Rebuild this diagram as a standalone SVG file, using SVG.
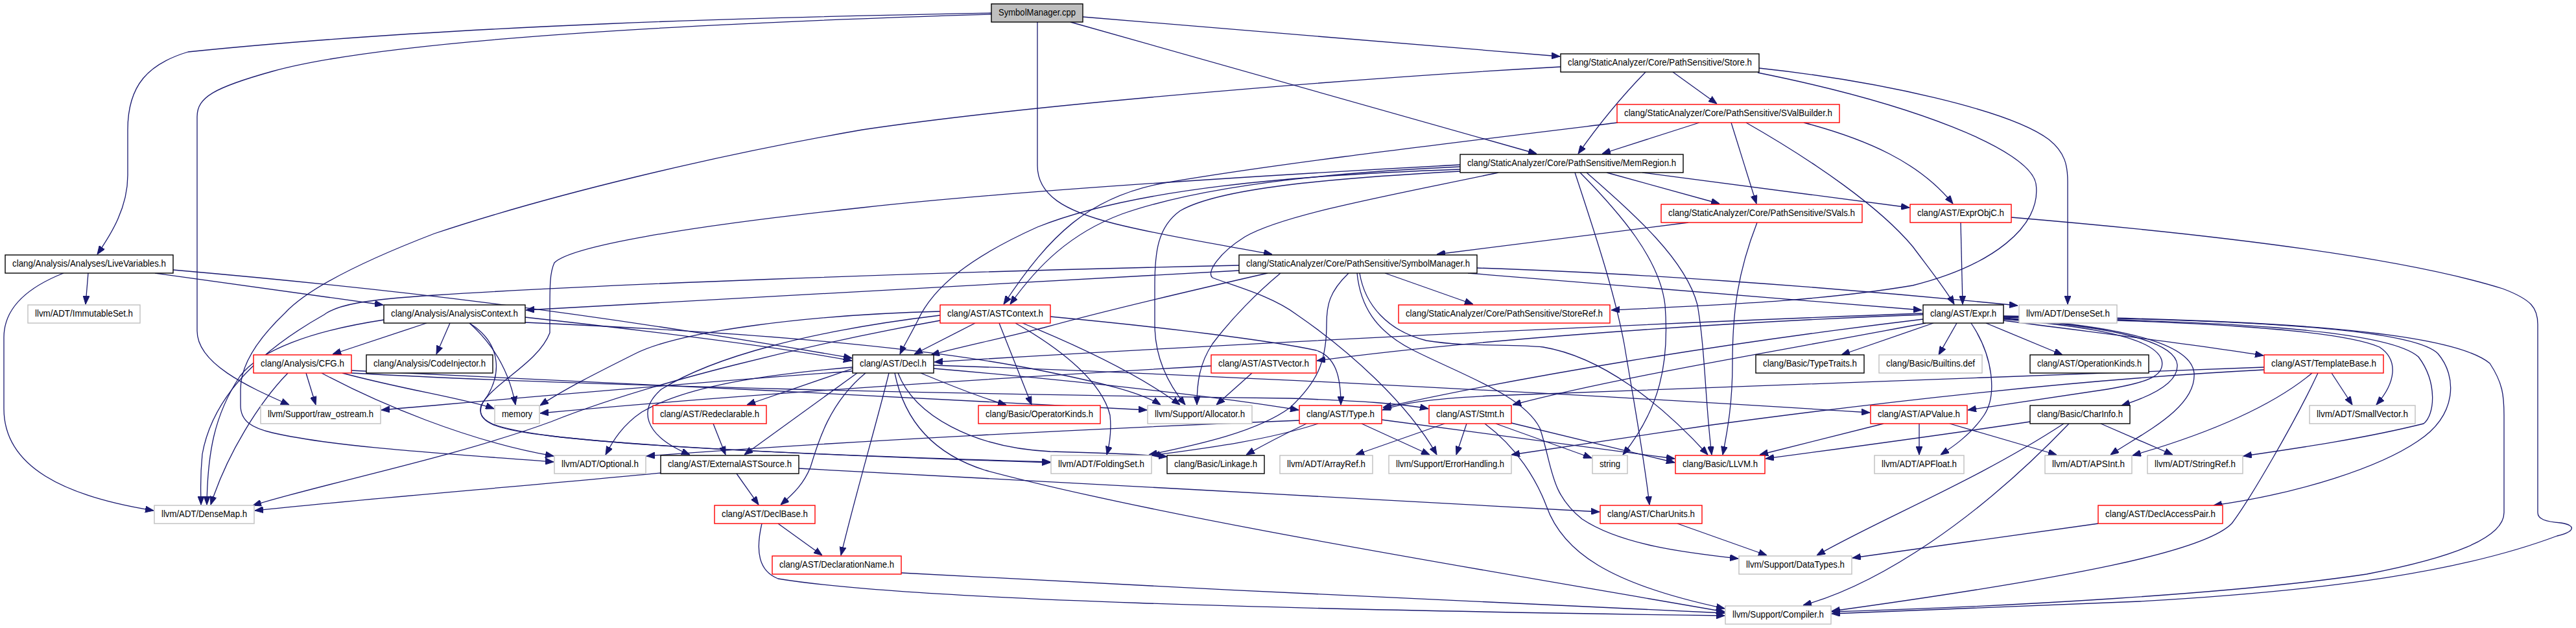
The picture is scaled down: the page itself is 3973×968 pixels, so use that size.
<svg xmlns="http://www.w3.org/2000/svg" width="3973" height="968" viewBox="0 0 3973 968">
<style>
.e{fill:none;stroke:#191970;stroke-width:1.3;marker-end:url(#ah)}
.n rect{fill:#fff;stroke-width:1.4}
.b rect{stroke:#000}
.r rect{stroke:#ff0000}
.g rect{stroke:#bfbfbf}
.k rect{fill:#bfbfbf;stroke:#000}
text{font-family:"Liberation Sans",Arial,Helvetica,sans-serif;font-size:14.5px;fill:#000;text-anchor:middle}
</style>
<defs>
<marker id="ah" viewBox="0 0 13 10" refX="13" refY="5" markerWidth="13" markerHeight="10" markerUnits="userSpaceOnUse" orient="auto"><path d="M0,0 L13,5 L0,10 z" fill="#191970" stroke="#191970" stroke-width="1"/></marker>
</defs>
<rect width="3973" height="968" fill="#fff"/>
<g id="edges">
<path class="e" d="M1529,20 C1200,26 700,38 290,80 C230,98 197,130 197,200 L197,270 C197,320 172,360 150,392"/>
<path class="e" d="M1529,22 C1100,35 600,60 420,110 C330,135 304,150 304,180 L304,510 C304,560 380,595 446,624"/>
<path class="e" d="M1600,34 L1600,255 C1600,300 1640,325 1720,345 C1800,365 1900,380 1962,392"/>
<path class="e" d="M1670,26 L2406,87"/>
<path class="e" d="M1651,34 L2370,237"/>
<path class="e" d="M2538,111 C2495,155 2460,200 2434,237"/>
<path class="e" d="M2580,111 L2648,160"/>
<path class="e" d="M2713,105 C2900,125 3100,170 3160,215 C3185,235 3189,255 3189,280 L3189,469"/>
<path class="e" d="M2711,112 C2950,160 3130,230 3140,283 C3150,350 3070,410 2950,440 C2800,465 2650,470 2485,478"/>
<path class="e" d="M2407,103 C2100,120 1600,160 1330,200 C1100,240 850,300 670,360 C540,410 470,450 440,482 C400,520 371,560 371,600 L371,625 C371,650 390,660 420,667 C520,690 700,700 854,712"/>
<path class="e" d="M2621,189 L2471,237"/>
<path class="e" d="M2670,189 L2709,314"/>
<path class="e" d="M2693,189 C2800,250 2900,320 2950,380 C2980,420 3000,445 3014,469"/>
<path class="e" d="M2782,189 C2880,215 2960,250 3012,314"/>
<path class="e" d="M2495,189 C2200,225 1950,255 1790,283 C1680,305 1620,360 1548,469"/>
<path class="e" d="M2252,257 C2000,268 1830,295 1730,330 C1650,360 1600,410 1558,469"/>
<path class="e" d="M2429,266 C2460,360 2490,450 2505,530 C2520,620 2535,700 2544,778"/>
<path class="e" d="M2252,261 C2000,270 1750,290 1600,350 C1500,395 1440,440 1415,495 C1402,520 1393,535 1388,546"/>
<path class="e" d="M2533,266 L2945,320"/>
<path class="e" d="M2447,266 C2520,330 2600,400 2618,470 C2630,540 2630,620 2640,701"/>
<path class="e" d="M2478,266 L2652,314"/>
<path class="e" d="M2252,254 C2100,262 1600,290 1330,320 C1050,350 880,380 855,405 C848,420 848,440 848,480 L848,513 C830,560 760,590 742,625 C735,650 760,662 850,672 C1000,690 1300,703 1620,713"/>
<path class="e" d="M2252,264 C2050,275 1880,290 1820,325 C1785,350 1781,390 1781,440 L1781,500 C1781,550 1800,590 1828,624"/>
<path class="e" d="M2311,266 C2150,300 1980,330 1920,365 C1880,390 1860,420 1870,428 C1900,440 1960,455 2000,485 C2080,540 2170,620 2216,701"/>
<path class="e" d="M2437,266 C2500,330 2560,400 2568,470 C2575,560 2560,630 2503,701"/>
<path class="e" d="M2604,343 L2216,392"/>
<path class="e" d="M2710,343 C2680,420 2672,480 2672,560 C2672,620 2665,660 2657,701"/>
<path class="e" d="M3024,343 L3027,469"/>
<path class="e" d="M3102,335 C3400,360 3700,395 3860,445 C3905,462 3914,475 3914,500 L3914,790 C3914,800 3925,804 3950,806 C3975,810 3970,820 3944,826 C3800,880 3600,910 3300,927 C3100,935 2950,940 2825,946"/>
<path class="e" d="M1955,421 C1850,445 1700,480 1610,505 C1530,525 1480,535 1436,547"/>
<path class="e" d="M2264,421 L2964,478"/>
<path class="e" d="M1911,417 C1500,440 1100,460 811,478"/>
<path class="e" d="M2097,421 C2105,470 2140,510 2200,525 C2260,535 2330,530 2380,535 C2470,550 2560,620 2634,701"/>
<path class="e" d="M2136,421 L2272,469"/>
<path class="e" d="M1911,409 C1400,420 900,440 670,455 C560,462 520,470 500,485 C420,530 330,600 312,700 C308,740 310,760 310,778"/>
<path class="e" d="M2278,413 C2500,420 2800,440 3112,471"/>
<path class="e" d="M2080,421 C2050,450 2046,470 2046,500 C2046,560 2030,590 1990,628 C1940,665 1850,685 1772,701"/>
<path class="e" d="M1975,421 C1940,450 1900,490 1870,530 C1850,560 1846,590 1846,624"/>
<path class="e" d="M2093,421 C2098,470 2120,510 2180,540 C2260,580 2350,610 2375,660 C2395,720 2390,760 2440,800 C2500,840 2600,852 2681,861"/>
<path class="e" d="M98,421 C50,440 6,470 6,520 L6,630 C6,720 100,765 237,787"/>
<path class="e" d="M136,421 L132,469"/>
<path class="e" d="M239,421 L591,470"/>
<path class="e" d="M267,416 C600,445 900,480 1314,552"/>
<path class="e" d="M810,489 C1000,510 1200,535 1314,556"/>
<path class="e" d="M658,498 L513,546"/>
<path class="e" d="M694,498 L673,546"/>
<path class="e" d="M592,493 C480,510 400,540 370,580 C330,640 320,700 319,778"/>
<path class="e" d="M724,498 C775,530 775,580 745,620 C730,650 760,660 850,672 C1000,690 1300,703 1620,712"/>
<path class="e" d="M810,497 C1100,510 1400,530 1600,570 C1700,590 1760,605 1790,624"/>
<path class="e" d="M724,498 C760,530 785,570 795,624"/>
<path class="e" d="M1504,498 L1410,546"/>
<path class="e" d="M1450,486 C1250,510 1100,550 1020,600 C985,630 990,670 1064,701"/>
<path class="e" d="M1620,488 C1800,505 1960,525 2030,540 C2060,550 2068,580 2068,624"/>
<path class="e" d="M1541,498 L1591,624"/>
<path class="e" d="M1450,494 C1250,530 1000,590 850,650 C700,705 500,745 390,779"/>
<path class="e" d="M1566,498 C1640,540 1700,590 1712,640 C1715,670 1710,690 1707,701"/>
<path class="e" d="M1577,498 C1680,540 1760,580 1820,624"/>
<path class="e" d="M1450,480 C1250,485 1050,510 980,545 C920,575 870,600 833,625"/>
<path class="e" d="M444,575 C400,620 350,700 325,778"/>
<path class="e" d="M472,575 L487,624"/>
<path class="e" d="M496,575 C580,620 720,680 854,703"/>
<path class="e" d="M528,575 C620,600 720,615 762,630"/>
<path class="e" d="M542,575 C900,595 1500,608 1990,614 C2100,618 2160,622 2203,630"/>
<path class="e" d="M541,571 C900,590 1400,610 1769,632"/>
<path class="e" d="M1322,575 L1148,701"/>
<path class="e" d="M1315,568 L1152,624"/>
<path class="e" d="M1335,575 C1280,620 1262,680 1250,720 C1240,745 1225,760 1204,778"/>
<path class="e" d="M1371,575 C1350,660 1320,760 1297,856"/>
<path class="e" d="M1315,566 C1150,580 1050,600 990,635 C960,655 945,680 934,701"/>
<path class="e" d="M1315,572 C1000,595 750,618 588,632"/>
<path class="e" d="M1440,568 C1700,590 1900,615 2003,632"/>
<path class="e" d="M1440,563 C1800,575 2400,605 2884,636"/>
<path class="e" d="M1420,575 C1480,600 1520,615 1552,624"/>
<path class="e" d="M1385,575 C1410,640 1500,690 1620,696 C1700,698 1760,700 1800,704"/>
<path class="e" d="M1380,575 C1395,650 1440,700 1520,725 C1800,800 2300,880 2660,943"/>
<path class="e" d="M2966,485 C2700,495 2300,520 2031,556"/>
<path class="e" d="M2966,483 C2500,500 1900,530 1441,558"/>
<path class="e" d="M2966,492 C2650,530 2350,580 2133,628"/>
<path class="e" d="M2970,498 C2750,540 2500,580 2333,624"/>
<path class="e" d="M2982,498 L2840,547"/>
<path class="e" d="M3018,498 L2990,547"/>
<path class="e" d="M3040,498 C3075,550 3080,610 3060,640 C3040,670 3010,690 2993,701"/>
<path class="e" d="M3063,498 L3181,547"/>
<path class="e" d="M3090,494 C3250,515 3380,530 3491,548"/>
<path class="e" d="M3090,492 C3250,505 3325,525 3334,555 C3340,580 3310,590 3250,600 C3150,615 3080,625 3035,632"/>
<path class="e" d="M3090,491 C3280,505 3355,530 3358,562 C3360,590 3320,610 3272,625"/>
<path class="e" d="M3090,490 C3300,505 3380,535 3384,575 C3388,630 3300,670 3255,701"/>
<path class="e" d="M3090,489 C3350,495 3600,505 3670,535 C3700,555 3695,590 3665,624"/>
<path class="e" d="M3090,488 C3400,495 3680,505 3730,550 C3760,590 3755,640 3738,653 C3650,675 3550,690 3460,703"/>
<path class="e" d="M3090,488 C3450,492 3720,505 3760,545 C3790,580 3790,640 3729,680 C3670,720 3550,760 3414,779"/>
<path class="e" d="M3090,487 C3500,492 3780,510 3840,560 C3860,590 3862,610 3862,640 L3862,790 C3862,830 3780,860 3650,885 C3450,915 3100,935 2825,943"/>
<path class="e" d="M3492,566 C3100,580 2600,600 2300,610 C2200,615 2160,622 2132,632"/>
<path class="e" d="M3492,570 C3200,585 2900,620 2640,655 C2500,675 2400,690 2331,701"/>
<path class="e" d="M3566,575 C3500,630 3400,670 3289,702"/>
<path class="e" d="M3575,575 C3540,650 3470,770 3442,807 C3400,850 3200,890 2825,942"/>
<path class="e" d="M3596,575 L3628,624"/>
<path class="e" d="M2100,653 L2205,701"/>
<path class="e" d="M2131,647 C2300,670 2450,690 2583,707"/>
<path class="e" d="M2004,648 C1700,660 1300,680 997,703"/>
<path class="e" d="M2033,653 C1950,680 1850,692 1776,702"/>
<path class="e" d="M2015,653 C1975,672 1945,688 1922,701"/>
<path class="e" d="M2228,653 L2091,701"/>
<path class="e" d="M2262,653 L2246,701"/>
<path class="e" d="M2307,653 L2455,706"/>
<path class="e" d="M2331,652 C2450,680 2530,700 2583,713"/>
<path class="e" d="M2290,653 C2340,690 2370,740 2385,780 C2410,850 2480,900 2660,938"/>
<path class="e" d="M2905,653 L2714,701"/>
<path class="e" d="M2960,653 L2960,701"/>
<path class="e" d="M3007,653 L3172,701"/>
<path class="e" d="M3131,650 C3000,670 2850,690 2723,707"/>
<path class="e" d="M3183,653 C3050,740 2900,800 2802,856"/>
<path class="e" d="M3191,653 C3050,800 2900,900 2781,933"/>
<path class="e" d="M3240,653 L3351,701"/>
<path class="e" d="M1200,807 L1268,856"/>
<path class="e" d="M1175,807 C1165,850 1170,880 1200,892 C1400,925 2000,940 2660,949"/>
<path class="e" d="M1390,883 C1800,905 2300,930 2660,945"/>
<path class="e" d="M1136,730 L1170,778"/>
<path class="e" d="M1019,729 C800,750 550,770 393,787"/>
<path class="e" d="M1232,722 C1600,740 2100,770 2467,789"/>
<path class="e" d="M1100,653 L1119,701"/>
<path class="e" d="M1931,575 L1876,624"/>
<path class="e" d="M1868,564 C1500,585 1100,612 833,637"/>
<path class="e" d="M2587,807 L2725,856"/>
<path class="e" d="M3236,807 L2857,860"/>
</g>
<g id="n0" class="n k"><rect x="1529" y="6" width="141" height="28"/><text x="1599.5" y="24" textLength="119" lengthAdjust="spacingAndGlyphs">SymbolManager.cpp</text></g>
<g id="n1" class="n b"><rect x="2407" y="83" width="306" height="28"/><text x="2560" y="101" textLength="284" lengthAdjust="spacingAndGlyphs">clang/StaticAnalyzer/Core/PathSensitive/Store.h</text></g>
<g id="n2" class="n r"><rect x="2494" y="161" width="343" height="28"/><text x="2665.5" y="179" textLength="321" lengthAdjust="spacingAndGlyphs">clang/StaticAnalyzer/Core/PathSensitive/SValBuilder.h</text></g>
<g id="n3" class="n b"><rect x="2252" y="238" width="344" height="28"/><text x="2424" y="256" textLength="322" lengthAdjust="spacingAndGlyphs">clang/StaticAnalyzer/Core/PathSensitive/MemRegion.h</text></g>
<g id="n4" class="n r"><rect x="2562" y="315" width="310" height="28"/><text x="2717" y="333" textLength="288" lengthAdjust="spacingAndGlyphs">clang/StaticAnalyzer/Core/PathSensitive/SVals.h</text></g>
<g id="n5" class="n r"><rect x="2946" y="315" width="156" height="28"/><text x="3024" y="333" textLength="134" lengthAdjust="spacingAndGlyphs">clang/AST/ExprObjC.h</text></g>
<g id="n6" class="n b"><rect x="1911" y="393" width="367" height="28"/><text x="2094.5" y="411" textLength="345" lengthAdjust="spacingAndGlyphs">clang/StaticAnalyzer/Core/PathSensitive/SymbolManager.h</text></g>
<g id="n7" class="n b"><rect x="8" y="393" width="259" height="28"/><text x="137.5" y="411" textLength="237" lengthAdjust="spacingAndGlyphs">clang/Analysis/Analyses/LiveVariables.h</text></g>
<g id="n8" class="n b"><rect x="592" y="470" width="218" height="28"/><text x="701" y="488" textLength="196" lengthAdjust="spacingAndGlyphs">clang/Analysis/AnalysisContext.h</text></g>
<g id="n9" class="n g"><rect x="43" y="470" width="173" height="28"/><text x="129.5" y="488" textLength="151" lengthAdjust="spacingAndGlyphs">llvm/ADT/ImmutableSet.h</text></g>
<g id="n10" class="n r"><rect x="1450" y="470" width="170" height="28"/><text x="1535" y="488" textLength="148" lengthAdjust="spacingAndGlyphs">clang/AST/ASTContext.h</text></g>
<g id="n11" class="n r"><rect x="2157" y="470" width="326" height="28"/><text x="2320" y="488" textLength="304" lengthAdjust="spacingAndGlyphs">clang/StaticAnalyzer/Core/PathSensitive/StoreRef.h</text></g>
<g id="n12" class="n b"><rect x="2966" y="470" width="124" height="28"/><text x="3028" y="488" textLength="102" lengthAdjust="spacingAndGlyphs">clang/AST/Expr.h</text></g>
<g id="n13" class="n g"><rect x="3114" y="470" width="151" height="28"/><text x="3189.5" y="488" textLength="129" lengthAdjust="spacingAndGlyphs">llvm/ADT/DenseSet.h</text></g>
<g id="n14" class="n r"><rect x="391" y="547" width="151" height="28"/><text x="466.5" y="565" textLength="129" lengthAdjust="spacingAndGlyphs">clang/Analysis/CFG.h</text></g>
<g id="n15" class="n b"><rect x="565" y="547" width="195" height="28"/><text x="662.5" y="565" textLength="173" lengthAdjust="spacingAndGlyphs">clang/Analysis/CodeInjector.h</text></g>
<g id="n16" class="n b"><rect x="1315" y="547" width="125" height="28"/><text x="1377.5" y="565" textLength="103" lengthAdjust="spacingAndGlyphs">clang/AST/Decl.h</text></g>
<g id="n17" class="n r"><rect x="1868" y="547" width="162" height="28"/><text x="1949" y="565" textLength="140" lengthAdjust="spacingAndGlyphs">clang/AST/ASTVector.h</text></g>
<g id="n18" class="n b"><rect x="2708" y="547" width="167" height="28"/><text x="2791.5" y="565" textLength="145" lengthAdjust="spacingAndGlyphs">clang/Basic/TypeTraits.h</text></g>
<g id="n19" class="n g"><rect x="2898" y="547" width="159" height="28"/><text x="2977.5" y="565" textLength="137" lengthAdjust="spacingAndGlyphs">clang/Basic/Builtins.def</text></g>
<g id="n20" class="n b"><rect x="3131" y="547" width="183" height="28"/><text x="3222.5" y="565" textLength="161" lengthAdjust="spacingAndGlyphs">clang/AST/OperationKinds.h</text></g>
<g id="n21" class="n r"><rect x="3492" y="547" width="184" height="28"/><text x="3584" y="565" textLength="162" lengthAdjust="spacingAndGlyphs">clang/AST/TemplateBase.h</text></g>
<g id="n22" class="n g"><rect x="402" y="625" width="185" height="28"/><text x="494.5" y="643" textLength="163" lengthAdjust="spacingAndGlyphs">llvm/Support/raw_ostream.h</text></g>
<g id="n23" class="n g"><rect x="763" y="625" width="69" height="28"/><text x="797.5" y="643" textLength="47" lengthAdjust="spacingAndGlyphs">memory</text></g>
<g id="n24" class="n r"><rect x="1007" y="625" width="175" height="28"/><text x="1094.5" y="643" textLength="153" lengthAdjust="spacingAndGlyphs">clang/AST/Redeclarable.h</text></g>
<g id="n25" class="n r"><rect x="1509" y="625" width="188" height="28"/><text x="1603" y="643" textLength="166" lengthAdjust="spacingAndGlyphs">clang/Basic/OperatorKinds.h</text></g>
<g id="n26" class="n g"><rect x="1770" y="625" width="161" height="28"/><text x="1850.5" y="643" textLength="139" lengthAdjust="spacingAndGlyphs">llvm/Support/Allocator.h</text></g>
<g id="n27" class="n r"><rect x="2004" y="625" width="127" height="28"/><text x="2067.5" y="643" textLength="105" lengthAdjust="spacingAndGlyphs">clang/AST/Type.h</text></g>
<g id="n28" class="n r"><rect x="2204" y="625" width="127" height="28"/><text x="2267.5" y="643" textLength="105" lengthAdjust="spacingAndGlyphs">clang/AST/Stmt.h</text></g>
<g id="n29" class="n r"><rect x="2885" y="625" width="149" height="28"/><text x="2959.5" y="643" textLength="127" lengthAdjust="spacingAndGlyphs">clang/AST/APValue.h</text></g>
<g id="n30" class="n b"><rect x="3131" y="625" width="154" height="28"/><text x="3208" y="643" textLength="132" lengthAdjust="spacingAndGlyphs">clang/Basic/CharInfo.h</text></g>
<g id="n31" class="n g"><rect x="3562" y="625" width="163" height="28"/><text x="3643.5" y="643" textLength="141" lengthAdjust="spacingAndGlyphs">llvm/ADT/SmallVector.h</text></g>
<g id="n32" class="n g"><rect x="855" y="702" width="141" height="28"/><text x="925.5" y="720" textLength="119" lengthAdjust="spacingAndGlyphs">llvm/ADT/Optional.h</text></g>
<g id="n33" class="n b"><rect x="1019" y="702" width="213" height="28"/><text x="1125.5" y="720" textLength="191" lengthAdjust="spacingAndGlyphs">clang/AST/ExternalASTSource.h</text></g>
<g id="n34" class="n g"><rect x="1621" y="702" width="155" height="28"/><text x="1698.5" y="720" textLength="133" lengthAdjust="spacingAndGlyphs">llvm/ADT/FoldingSet.h</text></g>
<g id="n35" class="n b"><rect x="1800" y="702" width="150" height="28"/><text x="1875" y="720" textLength="128" lengthAdjust="spacingAndGlyphs">clang/Basic/Linkage.h</text></g>
<g id="n36" class="n g"><rect x="1974" y="702" width="143" height="28"/><text x="2045.5" y="720" textLength="121" lengthAdjust="spacingAndGlyphs">llvm/ADT/ArrayRef.h</text></g>
<g id="n37" class="n g"><rect x="2142" y="702" width="189" height="28"/><text x="2236.5" y="720" textLength="167" lengthAdjust="spacingAndGlyphs">llvm/Support/ErrorHandling.h</text></g>
<g id="n38" class="n g"><rect x="2456" y="702" width="54" height="28"/><text x="2483" y="720" textLength="32" lengthAdjust="spacingAndGlyphs">string</text></g>
<g id="n39" class="n r"><rect x="2584" y="702" width="138" height="28"/><text x="2653" y="720" textLength="116" lengthAdjust="spacingAndGlyphs">clang/Basic/LLVM.h</text></g>
<g id="n40" class="n g"><rect x="2891" y="702" width="138" height="28"/><text x="2960" y="720" textLength="116" lengthAdjust="spacingAndGlyphs">llvm/ADT/APFloat.h</text></g>
<g id="n41" class="n g"><rect x="3154" y="702" width="134" height="28"/><text x="3221" y="720" textLength="112" lengthAdjust="spacingAndGlyphs">llvm/ADT/APSInt.h</text></g>
<g id="n42" class="n g"><rect x="3312" y="702" width="147" height="28"/><text x="3385.5" y="720" textLength="125" lengthAdjust="spacingAndGlyphs">llvm/ADT/StringRef.h</text></g>
<g id="n43" class="n g"><rect x="238" y="779" width="154" height="28"/><text x="315" y="797" textLength="132" lengthAdjust="spacingAndGlyphs">llvm/ADT/DenseMap.h</text></g>
<g id="n44" class="n r"><rect x="1102" y="779" width="155" height="28"/><text x="1179.5" y="797" textLength="133" lengthAdjust="spacingAndGlyphs">clang/AST/DeclBase.h</text></g>
<g id="n45" class="n r"><rect x="2468" y="779" width="157" height="28"/><text x="2546.5" y="797" textLength="135" lengthAdjust="spacingAndGlyphs">clang/AST/CharUnits.h</text></g>
<g id="n46" class="n r"><rect x="3236" y="779" width="192" height="28"/><text x="3332" y="797" textLength="170" lengthAdjust="spacingAndGlyphs">clang/AST/DeclAccessPair.h</text></g>
<g id="n47" class="n r"><rect x="1191" y="857" width="199" height="28"/><text x="1290.5" y="875" textLength="177" lengthAdjust="spacingAndGlyphs">clang/AST/DeclarationName.h</text></g>
<g id="n48" class="n g"><rect x="2682" y="857" width="174" height="28"/><text x="2769" y="875" textLength="152" lengthAdjust="spacingAndGlyphs">llvm/Support/DataTypes.h</text></g>
<g id="n49" class="n g"><rect x="2661" y="934" width="163" height="28"/><text x="2742.5" y="952" textLength="141" lengthAdjust="spacingAndGlyphs">llvm/Support/Compiler.h</text></g>
</svg>
